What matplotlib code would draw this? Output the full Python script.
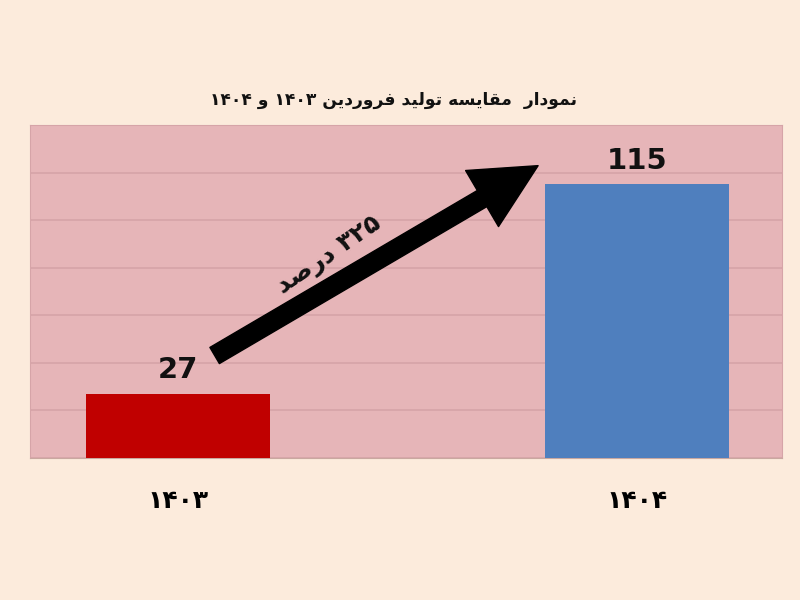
import matplotlib
matplotlib.use("Agg")
import matplotlib.pyplot as plt
from matplotlib.patches import FancyArrowPatch

# ---- data ----
categories = ["۱۴۰۳", "۱۴۰۴"]
values = [27, 115]
value_labels = ["27", "115"]
bar_colors = ["#c00000", "#4f7fbe"]
title_text = "نمودار  مقایسه تولید فروردین ۱۴۰۳ و ۱۴۰۴"
arrow_text = "۳۲۵ درصد"

# ---- minimal Persian shaping (presentation forms) + visual RTL order ----
FORMS = {  # isolated, final, initial, medial
    "ا": ("\uFE8D", "\uFE8E", None, None),
    "د": ("\uFEA9", "\uFEAA", None, None),
    "ر": ("\uFEAD", "\uFEAE", None, None),
    "و": ("\uFEED", "\uFEEE", None, None),
    "ن": ("\uFEE5", "\uFEE6", "\uFEE7", "\uFEE8"),
    "م": ("\uFEE1", "\uFEE2", "\uFEE3", "\uFEE4"),
    "ق": ("\uFED5", "\uFED6", "\uFED7", "\uFED8"),
    "ی": ("\uFBFC", "\uFBFD", "\uFBFE", "\uFBFF"),
    "س": ("\uFEB1", "\uFEB2", "\uFEB3", "\uFEB4"),
    "ه": ("\uFEE9", "\uFEEA", "\uFEEB", "\uFEEC"),
    "ت": ("\uFE95", "\uFE96", "\uFE97", "\uFE98"),
    "ل": ("\uFEDD", "\uFEDE", "\uFEDF", "\uFEE0"),
    "ف": ("\uFED1", "\uFED2", "\uFED3", "\uFED4"),
    "ص": ("\uFEB9", "\uFEBA", "\uFEBB", "\uFEBC"),
}


def shape_word(w):
    out = []
    for i, ch in enumerate(w):
        if ch not in FORMS:
            out.append(ch)
            continue
        prev = w[i - 1] if i > 0 else None
        nxt = w[i + 1] if i + 1 < len(w) else None
        join_prev = prev in FORMS and FORMS[prev][2] is not None
        join_next = nxt in FORMS and FORMS[ch][2] is not None
        iso, fin, ini, med = FORMS[ch]
        if join_prev and join_next:
            out.append(med)
        elif join_prev:
            out.append(fin)
        elif join_next:
            out.append(ini)
        else:
            out.append(iso)
    return "".join(out)


def is_digit_run(tok):
    return all("\u06F0" <= c <= "\u06F9" or c.isdigit() for c in tok)


def rtl(s):
    tokens = s.split(" ")
    shaped = []
    for t in tokens:
        if is_digit_run(t):
            shaped.append(t)  # digits stay left-to-right
        else:
            shaped.append(shape_word(t)[::-1])
    return " ".join(reversed(shaped))


plt.rcParams["font.family"] = ["DejaVu Sans"]

fig = plt.figure(figsize=(8, 6), dpi=100)
fig.patch.set_facecolor("#fcebdc")
ax = fig.add_axes([30 / 800, 1 - 458 / 600, 752 / 800, 333 / 600])
ax.set_facecolor("#e6b5b8")

x = list(range(len(categories)))
ax.set_ylim(0, 140)
ax.set_xlim(-0.322, 1.316)
ax.set_yticks(range(0, 141, 20))
ax.yaxis.grid(True, color="#d6a4a8", linewidth=1.2)
ax.set_axisbelow(True)
ax.bar(x, values, width=0.4, color=bar_colors, zorder=3)

for s in ["left", "right", "top"]:
    ax.spines[s].set_color("#d6a4a8")
ax.spines["bottom"].set_color("#c9a8a0")
ax.tick_params(axis="y", length=0, labelleft=False)
ax.tick_params(axis="x", length=0, pad=22)
ax.set_xticks(x)
ax.set_xticklabels(categories, fontsize=18, fontweight="bold")

for xi, v, lab in zip(x, values, value_labels):
    ax.text(xi, v + 4.0, lab, ha="center", va="bottom", fontsize=21,
            fontweight="bold", color="#111111", zorder=5)

fig.text(394 / 800, 1 - 100 / 600, rtl(title_text), ha="center", va="center",
         fontsize=12.3, fontweight="bold", color="#111111")

# arrow from near red label to near blue label
arr = FancyArrowPatch((0.075, 42.5), (0.79, 123.5), transform=ax.transData,
                      arrowstyle="simple,head_length=2.6,head_width=2.6,tail_width=0.75",
                      mutation_scale=18, color="black", zorder=6)
ax.add_patch(arr)

ax.text(0.33, 85, rtl(arrow_text), rotation=34, ha="center", va="center",
        fontsize=18, fontweight="bold", color="#111111", zorder=6,
        rotation_mode="anchor")

fig.savefig("out.png", dpi=100, facecolor=fig.get_facecolor())
